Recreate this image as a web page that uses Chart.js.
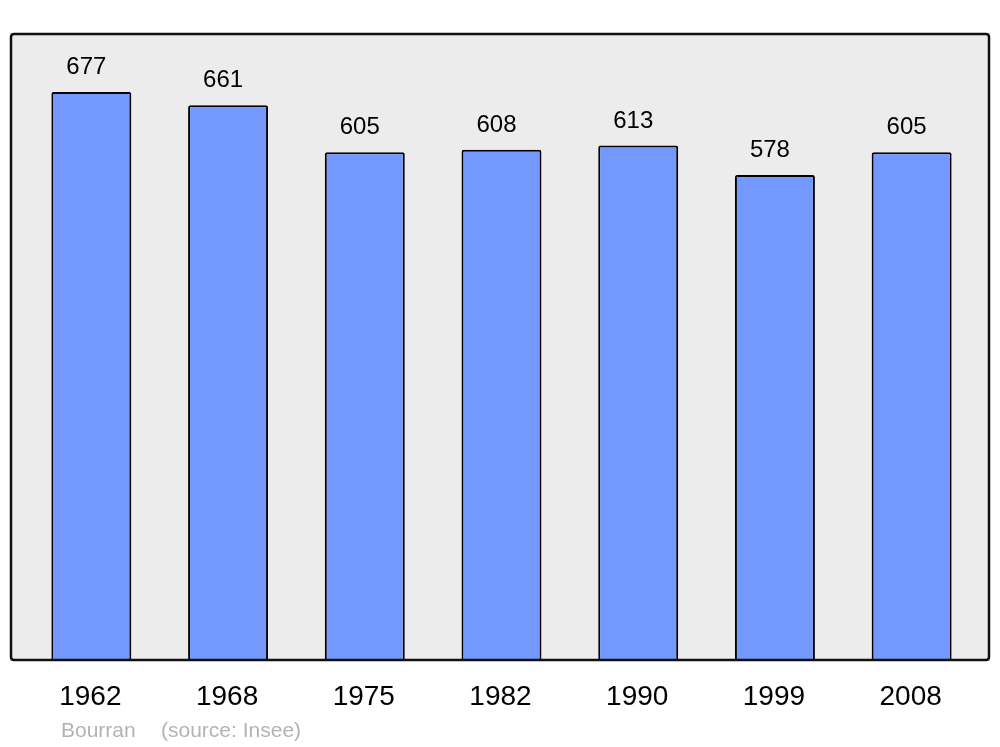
<!DOCTYPE html>
<html>
<head>
<meta charset="utf-8">
<script src="https://cdn.jsdelivr.net/npm/chart.js@4"></script>
<style>
  html, body { margin: 0; padding: 0; background: #fff; }
  #wrap { width: 1000px; height: 747px; }
</style>
</head>
<body>
<div id="wrap"><canvas id="myChart" width="1000" height="747"></canvas></div>
<script>
'use strict';
var years = ['1962', '1968', '1975', '1982', '1990', '1999', '2008'];
var population = [677, 661, 605, 608, 613, 578, 605];
var commune = 'Bourran';
var source = '(source: Insee)';

function boxPath(ctx) {
    var x0 = 11, y0 = 34, x1 = 989, y1 = 660, r = 3;
    ctx.beginPath();
    ctx.moveTo(x0 + r, y0);
    ctx.lineTo(x1 - r, y0);
    ctx.quadraticCurveTo(x1, y0, x1, y0 + r);
    ctx.lineTo(x1, y1 - r);
    ctx.quadraticCurveTo(x1, y1, x1 - r, y1);
    ctx.lineTo(x0 + r, y1);
    ctx.quadraticCurveTo(x0, y1, x0, y1 - r);
    ctx.lineTo(x0, y0 + r);
    ctx.quadraticCurveTo(x0, y0, x0 + r, y0);
    ctx.closePath();
}

// grey framed box behind the bars, plus the texts
var frameBox = {
    id: 'frameBox',
    beforeDraw: function (chart) {
        var ctx = chart.ctx;
        ctx.save();
        boxPath(ctx);
        ctx.fillStyle = '#ececec';
        ctx.fill();
        ctx.restore();
    },
    afterDatasetsDraw: function (chart) {
        var ctx = chart.ctx;
        ctx.save();
        boxPath(ctx);
        ctx.lineWidth = 2.5;
        ctx.strokeStyle = '#111';
        ctx.stroke();

        var meta = chart.getDatasetMeta(0);
        var xScale = chart.scales.x;
        ctx.fillStyle = '#000';
        ctx.textAlign = 'center';
        ctx.textBaseline = 'alphabetic';
        meta.data.forEach(function (bar, i) {
            ctx.font = '24px "Liberation Sans", Arial, sans-serif';
            ctx.fillText(String(population[i]), bar.x - 5, bar.y - 18);
            ctx.font = '28px "Liberation Sans", Arial, sans-serif';
            ctx.fillText(years[i], xScale.getPixelForValue(i) - 1, 705);
        });

        ctx.font = '21px "Liberation Sans", Arial, sans-serif';
        ctx.fillStyle = '#b3b3b3';
        ctx.textAlign = 'left';
        ctx.fillText(commune, 61, 737);
        ctx.fillText(source, 161, 737);
        ctx.restore();
    }
};

var ctx = document.getElementById('myChart');
var myChart = new Chart(ctx, {
    type: 'bar',
    data: {
        labels: years,
        datasets: [{
            data: population,
            backgroundColor: '#7399ff',
            borderColor: '#000',
            borderWidth: 2,
            borderRadius: 2,
            borderSkipped: 'bottom',
            barPercentage: 0.585,
            categoryPercentage: 1
        }]
    },
    options: {
        responsive: false,
        animation: false,
        layout: { padding: { left: 23, right: 20, top: 34, bottom: 87 } },
        plugins: { legend: { display: false }, tooltip: { enabled: false } },
        scales: {
            x: { display: false },
            y: { display: false, min: 0, max: 746 }
        }
    },
    plugins: [frameBox]
});
</script>
</body>
</html>
